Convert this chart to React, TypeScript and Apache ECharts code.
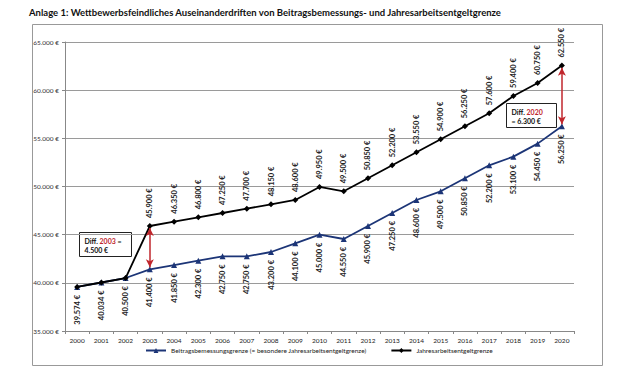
import React, { useEffect, useRef } from "react";
import * as echarts from "echarts";

const years = ["2000","2001","2002","2003","2004","2005","2006","2007","2008","2009","2010","2011","2012","2013","2014","2015","2016","2017","2018","2019","2020"];
const bbgValues = [39574, 40034, 40500, 41400, 41850, 42300, 42750, 42750, 43200, 44100, 45000, 44550, 45900, 47250, 48600, 49500, 50850, 52200, 53100, 54450, 56250];
const jaegValues = [39574, 40034, 40500, 45900, 46350, 46800, 47250, 47700, 48150, 48600, 49950, 49500, 50850, 52200, 53550, 54900, 56250, 57600, 59400, 60750, 62550];
const seriesNames = ["Beitragsbemessungsgrenze (= besondere Jahresarbeitsentgeltgrenze)", "Jahresarbeitsentgeltgrenze"];
const titleText = "Anlage 1: Wettbewerbsfeindliches Auseinanderdriften von Beitragsbemessungs- und Jahresarbeitsentgeltgrenze";
const diffNotes = [
  { year: "2003", top: 45900, bottom: 41400, text: "4.500 €" },
  { year: "2020", top: 62550, bottom: 56250, text: "6.300 €" },
];

const FONT = "Lato, 'Open Sans', sans-serif";
const fmt = (v: number) => v.toString().replace(/\B(?=(\d{3})+(?!\d))/g, ".") + " €";

export default function App() {
  const ref = useRef<HTMLDivElement>(null);
  useEffect(() => {
    if (!ref.current) return;
    const chart = echarts.init(ref.current, undefined, { renderer: "svg" });
    const blue = "#1c3577";
    const red = "#c0262c";
    chart.setOption({
      animation: false,
      backgroundColor: "#ffffff",
      textStyle: { fontFamily: FONT },
      title: {
        text: titleText,
        left: 24,
        top: 2,
        textStyle: { fontSize: 9.5, fontWeight: "bold", color: "#111", fontFamily: FONT },
      },
      grid: { left: 65, right: 47, top: 42, bottom: 52 },
      xAxis: {
        type: "category",
        data: years,
        boundaryGap: true,
        axisLine: { lineStyle: { color: "#888", width: 1 } },
        axisTick: { show: true, length: 3, lineStyle: { color: "#888" } },
        axisLabel: { fontSize: 6.5, color: "#222", margin: 6, interval: 0 },
      },
      yAxis: {
        type: "value",
        min: 35000,
        max: 65000,
        interval: 5000,
        axisLine: { show: true, lineStyle: { color: "#888", width: 1 } },
        axisTick: { show: true, length: 3, lineStyle: { color: "#888" } },
        splitLine: { lineStyle: { color: "#9a9a9a", width: 1 } },
        axisLabel: { fontSize: 6.5, color: "#333", margin: 6, formatter: (v: number) => fmt(v) },
      },
      legend: {
        bottom: 24,
        left: 140,
        itemGap: 24,
        itemWidth: 20,
        itemHeight: 6,
        textStyle: { fontSize: 6.5, color: "#222", fontFamily: FONT },
        data: seriesNames,
      },
      series: [
        {
          name: seriesNames[0],
          type: "line",
          data: bbgValues,
          symbol: "triangle",
          symbolSize: 6,
          z: 2,
          lineStyle: { color: blue, width: 1.8 },
          itemStyle: { color: blue },
          label: {
            show: true,
            position: "bottom",
            rotate: 90,
            align: "right",
            verticalAlign: "middle",
            distance: 5,
            fontSize: 7.5,
            fontWeight: "bold",
            color: "#222",
            formatter: (p: any) => fmt(p.value),
          },
          markLine: {
            silent: true,
            symbol: ["arrow", "arrow"],
            symbolSize: [6, 8],
            lineStyle: { color: red, width: 1.5, type: "solid" },
            label: { show: false },
            data: diffNotes.map((d) => [
              { coord: [d.year, d.top - 220] },
              { coord: [d.year, d.bottom + 220] },
            ]),
          },
        },
        {
          name: seriesNames[1],
          type: "line",
          data: jaegValues.map((v, i) => ({ value: v, label: { show: i >= 3 } })),
          symbol: "diamond",
          symbolSize: 6,
          z: 3,
          lineStyle: { color: "#000", width: 1.8 },
          itemStyle: { color: "#000" },
          label: {
            show: true,
            position: "top",
            rotate: 90,
            align: "left",
            verticalAlign: "middle",
            distance: 5,
            fontSize: 7.5,
            fontWeight: "bold",
            color: "#222",
            formatter: (p: any) => fmt(p.value),
          },
        },
      ],
      graphic: [
        {
          type: "rect",
          left: 30,
          top: 22,
          shape: { width: 570, height: 341 },
          style: { fill: "none", stroke: "#999", lineWidth: 1 },
          silent: true,
          z: -1,
        },
        {
          type: "group",
          left: 79,
          top: 232,
          children: [
            { type: "rect", shape: { x: 0, y: 0, width: 52, height: 24 }, style: { fill: "#fff", stroke: "#222", lineWidth: 1 } },
            {
              type: "text",
              x: 5,
              y: 4,
              style: {
                text: "{b|Diff. }{r|2003}{b| =}\n{b|4.500 €}",
                rich: {
                  b: { fontSize: 7, fontWeight: "bold", fill: "#111", fontFamily: FONT, lineHeight: 9 },
                  r: { fontSize: 7, fontWeight: "bold", fill: red, fontFamily: FONT, lineHeight: 9 },
                },
              },
            },
          ],
        },
        {
          type: "group",
          left: 506,
          top: 103,
          children: [
            { type: "rect", shape: { x: 0, y: 0, width: 50, height: 24 }, style: { fill: "#fff", stroke: "#222", lineWidth: 1 } },
            {
              type: "text",
              x: 5,
              y: 4,
              style: {
                text: "{b|Diff. }{r|2020}\n{b|= 6.300 €}",
                rich: {
                  b: { fontSize: 7, fontWeight: "bold", fill: "#111", fontFamily: FONT, lineHeight: 9 },
                  r: { fontSize: 7, fontWeight: "bold", fill: red, fontFamily: FONT, lineHeight: 9 },
                },
              },
            },
          ],
        },
      ],
    });
    return () => chart.dispose();
  }, []);
  return <div ref={ref} style={{ position: "absolute", left: 0, top: 0, width: 621, height: 383 }} />;
}
